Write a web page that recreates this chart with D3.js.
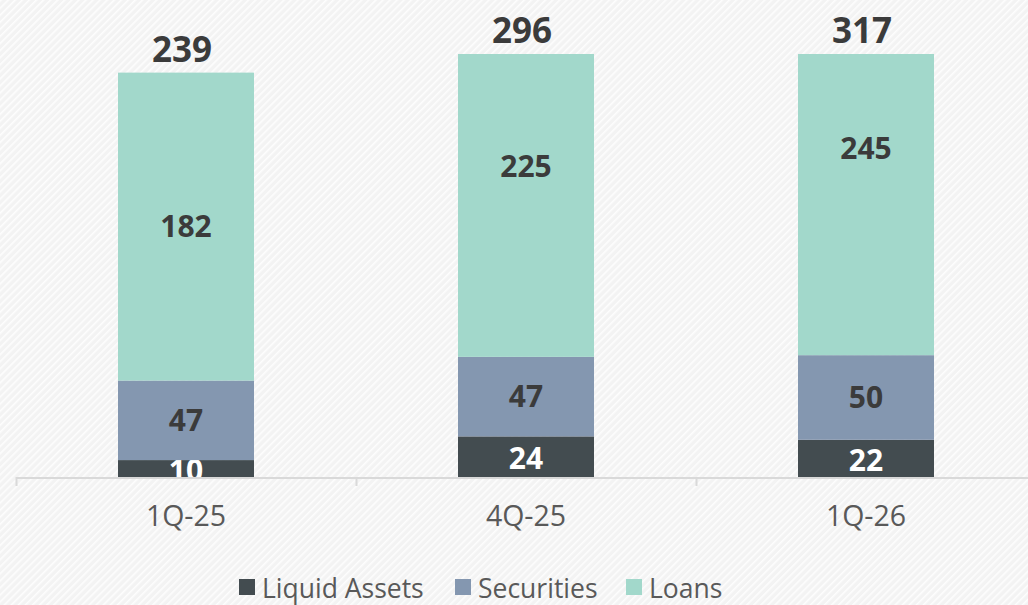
<!DOCTYPE html>
<html>
<head>
<meta charset="utf-8">
<script src="https://cdn.jsdelivr.net/npm/d3@7"></script>
<style>
  body { margin: 0; background: #f3f3f3; }
  text { font-family: "Open Sans", "DejaVu Sans", sans-serif; }
</style>
</head>
<body>
<div class="canvas"></div>
<script>
const categories = ['1Q-25', '4Q-25', '1Q-26'];
const liquidAssets = [10, 24, 22];
const securities = [47, 47, 50];
const loans = [182, 225, 245];
const seriesNames = ['Liquid Assets', 'Securities', 'Loans'];
const colors = ['#434c50', '#8497b0', '#a2d8cb'];
const labelColors = ['#ffffff', '#3b3b3b', '#3b3b3b'];

const width = 1028, height = 605;
const baseY = 477;

const rows = categories.map((c, i) => ({
  cat: c,
  'Liquid Assets': liquidAssets[i],
  'Securities': securities[i],
  'Loans': loans[i]
}));

const svg = d3.select('.canvas')
  .append('svg')
  .attr('width', width)
  .attr('height', height);

// striped background
const defs = svg.append('defs');
const pat = defs.append('pattern')
  .attr('id', 'stripes')
  .attr('width', 5).attr('height', 5)
  .attr('patternUnits', 'userSpaceOnUse')
  .attr('patternTransform', 'rotate(45)');
pat.append('rect').attr('width', 5).attr('height', 5).attr('fill', '#f3f3f3');
pat.append('rect').attr('width', 1.6).attr('height', 5).attr('fill', '#fdfdfd');
svg.append('rect').attr('width', width).attr('height', height).attr('fill', 'url(#stripes)');

defs.append('clipPath').attr('id', 'plotclip')
  .append('rect').attr('x', 0).attr('y', 0).attr('width', width).attr('height', baseY);

const x = d3.scaleBand()
  .domain(categories)
  .range([16, 1036])
  .paddingInner(0)
  .paddingOuter(0);

// value axis tops out at 250; taller stacks are cut off
const yRaw = d3.scaleLinear().domain([0, 250]).range([baseY, 54]);
const y = yRaw.copy().clamp(true);

const stack = d3.stack().keys(seriesNames);
const series = stack(rows);

const barW = x.bandwidth() * 0.4;
const plot = svg.append('g').attr('clip-path', 'url(#plotclip)');

series.forEach((s, k) => {
  const g = plot.append('g');
  g.selectAll('rect')
    .data(s)
    .join('rect')
    .attr('x', d => x(d.data.cat) + (x.bandwidth() - barW) / 2)
    .attr('width', barW)
    .attr('y', d => y(d[1]))
    .attr('height', d => y(d[0]) - y(d[1]))
    .attr('fill', colors[k]);
  g.selectAll('text')
    .data(s)
    .join('text')
    .attr('x', d => x(d.data.cat) + x.bandwidth() / 2)
    .attr('y', d => (yRaw(d[0]) + yRaw(d[1])) / 2 + (k === 0 ? 2 : 0))
    .attr('dy', '0.36em')
    .attr('text-anchor', 'middle')
    .attr('font-size', 30)
    .attr('font-weight', 700)
    .attr('fill', labelColors[k])
    .text(d => d[1] - d[0]);
});

// totals above bars
const topSeries = series[series.length - 1];
svg.append('g').selectAll('text')
  .data(topSeries)
  .join('text')
  .attr('x', d => x(d.data.cat) + x.bandwidth() / 2 - 4)
  .attr('y', d => y(d[1]) - 11)
  .attr('text-anchor', 'middle')
  .attr('font-size', 35)
  .attr('font-weight', 700)
  .attr('fill', '#3b3b3b')
  .text(d => d[1]);

// category axis
const axis = svg.append('g');
axis.append('line')
  .attr('x1', 16).attr('x2', width)
  .attr('y1', baseY + 1).attr('y2', baseY + 1)
  .attr('stroke', '#d9d9d9').attr('stroke-width', 2);
axis.selectAll('line.tick')
  .data(categories)
  .join('line')
  .attr('class', 'tick')
  .attr('x1', d => x(d) + 0.5).attr('x2', d => x(d) + 0.5)
  .attr('y1', baseY).attr('y2', baseY + 9)
  .attr('stroke', '#d9d9d9').attr('stroke-width', 2);
axis.selectAll('text')
  .data(categories)
  .join('text')
  .attr('x', d => x(d) + x.bandwidth() / 2)
  .attr('y', 526)
  .attr('text-anchor', 'middle')
  .attr('font-size', 28.5)
  .attr('fill', '#595959')
  .text(d => d);

// legend
const legendX = [239, 455, 626];
const legend = svg.append('g');
seriesNames.forEach((n, k) => {
  legend.append('rect')
    .attr('x', legendX[k]).attr('y', 579)
    .attr('width', 16).attr('height', 16)
    .attr('fill', colors[k]);
  legend.append('text')
    .attr('x', legendX[k] + 23).attr('y', 598)
    .attr('font-size', 26.5)
    .attr('fill', '#595959')
    .text(n);
});
</script>
</body>
</html>
